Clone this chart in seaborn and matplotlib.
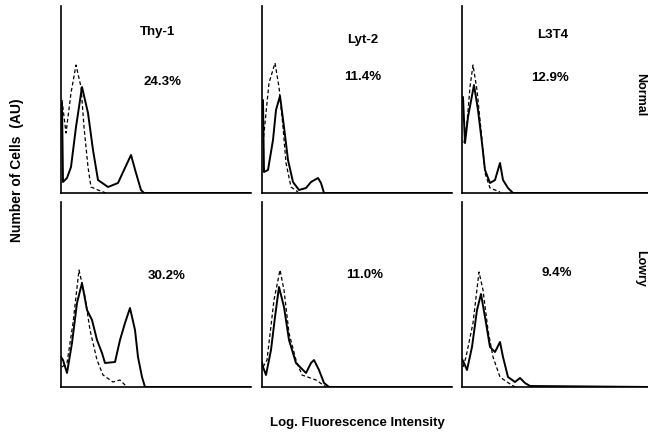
import matplotlib
matplotlib.use("Agg")
import matplotlib.pyplot as plt
import seaborn as sns
import pandas as pd

# ---- data (channel offset, cell count in AU) ----
markers = ["Thy-1", "Lyt-2", "L3T4"]
groups = ["Normal", "Lowry"]
pct_normal = ["24.3%", "11.4%", "12.9%"]
pct_lowry = ["30.2%", "11.0%", "9.4%"]

# Normal row
thy1_n_stained_x = [0, 1, 2, 6, 10, 15, 21, 27, 32, 37, 47, 57, 63, 70, 75, 80, 83, 190]
thy1_n_stained_y = [85, 90, 11, 15, 26, 66, 106, 80, 43, 13, 6, 10, 23, 38, 20, 3, 0, 0]
thy1_n_control_x = [1, 5, 10, 15, 20, 23, 27, 30, 37, 45]
thy1_n_control_y = [93, 60, 100, 128, 106, 66, 26, 6, 3, 0]

lyt2_n_stained_x = [0, 1, 2, 6, 11, 14, 18, 22, 26, 31, 37, 44, 49, 56, 59, 62, 190]
lyt2_n_stained_y = [90, 93, 21, 23, 53, 83, 97, 66, 33, 11, 3, 5, 11, 15, 10, 0, 0]
lyt2_n_control_x = [1, 2, 7, 13, 17, 21, 24, 29, 36]
lyt2_n_control_y = [50, 60, 110, 130, 106, 66, 30, 6, 1]

l3t4_n_stained_x = [0, 1, 3, 6, 12, 16, 20, 23, 28, 33, 38, 41, 46, 51, 190]
l3t4_n_stained_y = [96, 96, 50, 76, 108, 83, 50, 23, 10, 13, 30, 13, 5, 0, 0]
l3t4_n_control_x = [2, 5, 8, 11, 15, 20, 23, 28, 38]
l3t4_n_control_y = [50, 70, 106, 128, 103, 53, 20, 5, 1]

# Lowry row
thy1_l_stained_x = [0, 2, 6, 11, 16, 21, 26, 31, 36, 41, 44, 54, 59, 64, 69, 74, 77, 81, 84, 190]
thy1_l_stained_y = [30, 27, 14, 44, 84, 104, 77, 67, 47, 34, 24, 25, 47, 64, 79, 57, 30, 10, 0, 0]
thy1_l_control_x = [1, 6, 12, 18, 24, 29, 36, 42, 52, 59, 66]
thy1_l_control_y = [20, 24, 64, 117, 90, 57, 27, 12, 5, 7, 0]

lyt2_l_stained_x = [0, 1, 4, 9, 13, 17, 22, 27, 34, 44, 49, 52, 57, 62, 67, 190]
lyt2_l_stained_y = [25, 20, 12, 37, 70, 100, 80, 47, 24, 14, 24, 27, 17, 4, 0, 0]
lyt2_l_control_x = [1, 5, 12, 18, 22, 27, 34, 40, 54, 64]
lyt2_l_control_y = [20, 27, 87, 117, 97, 54, 27, 12, 7, 0]

l3t4_l_stained_x = [0, 2, 5, 10, 15, 19, 23, 28, 33, 38, 41, 46, 53, 58, 63, 68, 190]
l3t4_l_stained_y = [28, 24, 17, 40, 77, 93, 70, 40, 35, 45, 30, 10, 5, 9, 4, 1, 0]
l3t4_l_control_x = [1, 4, 11, 17, 21, 26, 31, 38, 45, 53]
l3t4_l_control_y = [20, 30, 64, 115, 97, 57, 30, 10, 5, 0]

panels = [
    [(thy1_n_stained_x, thy1_n_stained_y, thy1_n_control_x, thy1_n_control_y),
     (lyt2_n_stained_x, lyt2_n_stained_y, lyt2_n_control_x, lyt2_n_control_y),
     (l3t4_n_stained_x, l3t4_n_stained_y, l3t4_n_control_x, l3t4_n_control_y)],
    [(thy1_l_stained_x, thy1_l_stained_y, thy1_l_control_x, thy1_l_control_y),
     (lyt2_l_stained_x, lyt2_l_stained_y, lyt2_l_control_x, lyt2_l_control_y),
     (l3t4_l_stained_x, l3t4_l_stained_y, l3t4_l_control_x, l3t4_l_control_y)],
]

# ---- figure ----
sns.set_style("white")
plt.rcParams["font.family"] = ["Liberation Sans", "DejaVu Sans"]
plt.rcParams["font.weight"] = "bold"
plt.rcParams["text.color"] = "black"

W, H = 648, 436
fig = plt.figure(figsize=(W / 100, H / 100), dpi=100)

col_left = [61, 262, 462]
row_top = [6, 202]
row_bot = [193, 387]
pw = 190

def fx(px):
    return px / W

def fy(py):
    return 1 - py / H

for r in range(2):
    for c in range(3):
        top, bot = row_top[r], row_bot[r]
        ax = fig.add_axes([fx(col_left[c]), fy(bot), pw / W, (bot - top) / H])
        sx, sy, cx, cy = panels[r][c]
        df_s = pd.DataFrame({"x": sx, "y": sy})
        df_c = pd.DataFrame({"x": cx, "y": cy})
        sns.lineplot(data=df_s, x="x", y="y", ax=ax, color="black",
                     linewidth=1.4, estimator=None, sort=False)
        sns.lineplot(data=df_c, x="x", y="y", ax=ax, color="black",
                     linewidth=0.9, linestyle=(0, (3, 2)), estimator=None, sort=False)
        ax.set_xlim(0, pw)
        ax.set_ylim(0, bot - top)
        ax.set_xlabel("")
        ax.set_ylabel("")
        ax.set_xticks([])
        ax.set_yticks([])
        ax.patch.set_alpha(0)
        for side in ["top", "right"]:
            ax.spines[side].set_visible(False)
        for side in ["left", "bottom"]:
            ax.spines[side].set_color("black")
            ax.spines[side].set_linewidth(1.2)

# titles and percentages
title_pos = [(157, 32), (363, 40), (553, 35)]
pctn_pos = [(163, 82), (363, 77), (550, 78)]
pctl_pos = [(167, 276), (365, 275), (557, 273)]
for i in range(3):
    fig.text(fx(title_pos[i][0]), fy(title_pos[i][1]), markers[i], ha="center", va="center",
             fontsize=9.5, fontweight="bold", color="black")
    fig.text(fx(pctn_pos[i][0]), fy(pctn_pos[i][1]), pct_normal[i], ha="center", va="center",
             fontsize=9.5, fontweight="bold", color="black")
    fig.text(fx(pctl_pos[i][0]), fy(pctl_pos[i][1]), pct_lowry[i], ha="center", va="center",
             fontsize=9.5, fontweight="bold", color="black")

# row labels at right edge
fig.text(fx(634), fy(95), groups[0], ha="left", va="center", rotation=270,
         fontsize=9, fontweight="bold", color="black")
fig.text(fx(634), fy(268), groups[1], ha="left", va="center", rotation=270,
         fontsize=9, fontweight="bold", color="black")

fig.text(fx(17), fy(170), "Number of Cells  (AU)", ha="center", va="center", rotation=90,
         fontsize=10, fontweight="bold", color="black")
fig.text(fx(357), fy(423), "Log. Fluorescence Intensity", ha="center", va="center",
         fontsize=9.5, fontweight="bold", color="black")

fig.savefig("out.png", dpi=100)
